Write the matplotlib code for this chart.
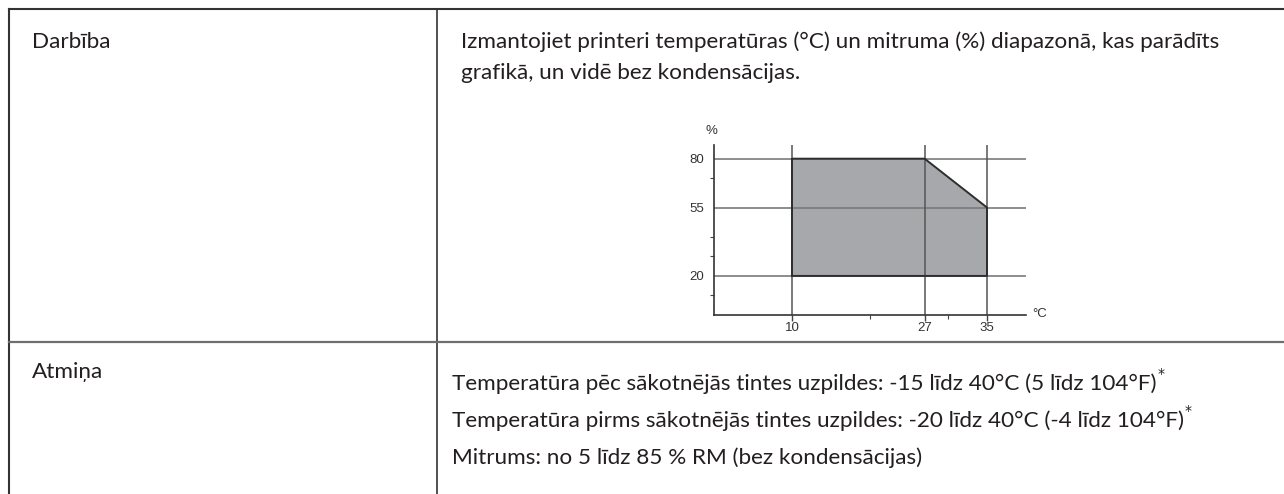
import matplotlib
matplotlib.use("Agg")
import matplotlib.pyplot as plt

# operating range polygon (temperature C, humidity %)
temps = [10, 10, 27, 35, 35]
hums = [20, 80, 80, 55, 20]
xticks = [10, 27, 35]
xminor = [20, 30]
yticks = [20, 55, 80]
yminor = [10, 30, 40, 70]

row1_label = "Darbība"
row1_text = ["Izmantojiet printeri temperatūras (°C) un mitruma (%) diapazonā, kas parādīts",
             "grafikā, un vidē bez kondensācijas."]
row2_label = "Atmiņa"
row2_text = ["Temperatūra pēc sākotnējās tintes uzpildes: -15 līdz 40°C (5 līdz 104°F)",
             "Temperatūra pirms sākotnējās tintes uzpildes: -20 līdz 40°C (-4 līdz 104°F)",
             "Mitrums: no 5 līdz 85 % RM (bez kondensācijas)"]
row2_star = [True, True, False]

W, H = 1284, 494
fig = plt.figure(figsize=(W / 100, H / 100), dpi=100)

# table layer in pixel coords
tab = fig.add_axes([0, 0, 1, 1])
tab.set_xlim(0, W)
tab.set_ylim(H, 0)
tab.axis("off")
tab.plot([9, W], [9, 9], color="#333333", lw=1.5)
tab.plot([9, 9], [9, H], color="#333333", lw=1.5)
tab.plot([437, 437], [9, H], color="#333333", lw=1.2)
tab.plot([9, W], [342, 342], color="#6e6e6e", lw=1.6)

font = ["Lato", "DejaVu Sans"]
fs = 16.2
txt = "#231f20"
tab.text(32, 42, row1_label, fontsize=fs, family=font, color=txt, va="center")
for i, s in enumerate(row1_text):
    tab.text(461, 42 + i * 31, s, fontsize=fs, family=font, color=txt, va="center")
tab.text(32, 372, row2_label, fontsize=fs, family=font, color=txt, va="center")
for i, s in enumerate(row2_text):
    t = tab.text(452, 384 + i * 37, s, fontsize=fs, family=font, color=txt, va="center")
    if row2_star[i]:
        fig.canvas.draw()
        bb = t.get_window_extent()
        tab.text(bb.x1 + 1, 384 + i * 37 - 10, "*", fontsize=10, family="DejaVu Sans",
                 color=txt, va="center")

# chart
x0, x1 = 714, 1026
ytop, ybot = 145, 315
ax = fig.add_axes([x0 / W, (H - ybot) / H, (x1 - x0) / W, (ybot - ytop) / H])
ax.set_xlim(0, 40)
ax.set_ylim(0, 87)
ax.patch.set_alpha(0)
for side in ["top", "right"]:
    ax.spines[side].set_visible(False)
for side in ["left", "bottom"]:
    ax.spines[side].set_color("#333333")
    ax.spines[side].set_linewidth(1.2)

ax.fill(temps, hums, color="#a7a8ab", lw=0, zorder=1)
ax.plot(temps + temps[:1], hums + hums[:1], color="#2e2e2e", lw=1.4, zorder=3)
for v in yticks:
    ax.axhline(v, color="#7a7a7a", lw=1.2, zorder=2)
for v in xticks:
    ax.axvline(v, color="#555555", lw=1.1, zorder=2)

ax.set_xticks(xticks)
ax.set_xticks(xminor, minor=True)
ax.set_yticks(yticks)
ax.set_yticks(yminor, minor=True)
tick_font = ["Liberation Sans Narrow", "Liberation Sans", "DejaVu Sans"]
ax.set_xticklabels([str(v) for v in xticks], family=tick_font, fontsize=9.5, color="#333333")
ax.set_yticklabels([str(v) for v in yticks], family=tick_font, fontsize=9.5, color="#333333")
ax.tick_params(which="major", length=4, width=1, color="#444444", pad=1)
ax.tick_params(which="minor", length=3, width=0.8, color="#444444")
ax.tick_params(axis="y", which="major", length=0, pad=7)

ax.text(-0.3, 94, "%", family=tick_font, fontsize=9.5, color="#333333",
        ha="center", va="center", clip_on=False)
ax.text(41.8, 0.5, "°C", family=tick_font, fontsize=9.5, color="#333333",
        ha="center", va="center", clip_on=False)

fig.savefig("out.png", dpi=100)
